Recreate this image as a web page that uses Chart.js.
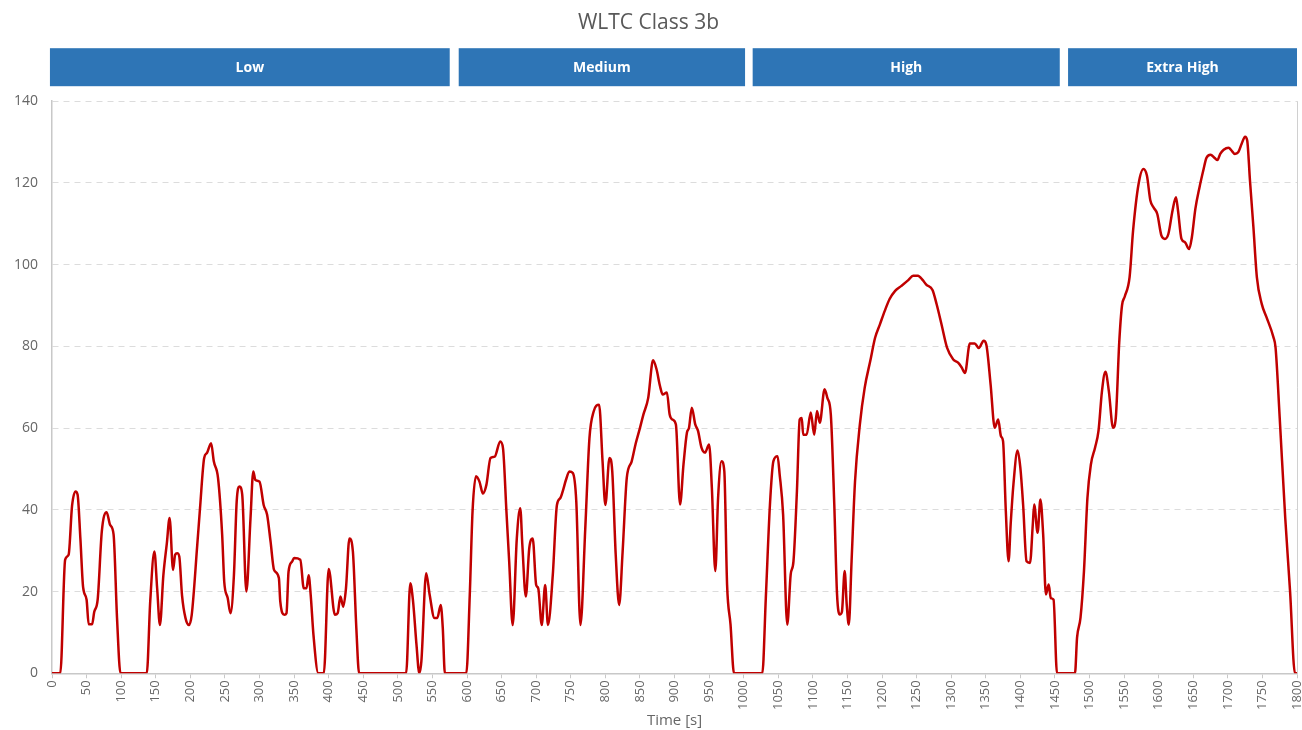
<!DOCTYPE html>
<html lang="en">
<head>
    <meta charset="UTF-8">
    <title>WLTC Class 3b</title>
    <style>
        body {
            margin: 0;
            padding: 0;
            background-color: #fff;
        }

        #cycleChart {
            display: block;
        }
    </style>
</head>
<body>
    <canvas id="cycleChart" width="1302" height="730"></canvas>

    <script src="https://cdn.jsdelivr.net/npm/chart.js"></script>
    <script>
        // Speed trace (time in s, speed in km/h)
        const timeSec = [
            0, 12, 19, 24, 29, 34, 37, 41, 45, 50, 53, 58, 61, 66, 72, 79, 84, 89, 94, 99,
            137, 142, 148, 152, 156, 161, 166, 170, 175, 178, 181, 184, 188, 193, 198, 202,
            210, 214, 220, 224, 230, 234, 240, 246, 249, 254, 258, 263, 267, 271, 275, 281,
            287, 291, 294, 300, 306, 311, 316, 321, 328, 330, 336, 339, 342, 347, 350, 359,
            364, 368, 371, 374, 378, 385, 393, 400, 409, 413, 417, 421, 425, 430, 435, 440, 444,
            512, 518, 522, 527, 531, 534, 541, 546, 553, 557, 562, 565, 568,
            599, 604, 608, 613, 618, 623, 628, 634, 640, 648, 652, 657, 661, 666, 672, 677,
            680, 685, 690, 695, 700, 703, 708, 713, 717, 724, 730, 735, 739, 743, 748, 753,
            758, 764, 771, 777, 783, 791, 796, 800, 806, 810, 815, 820, 825, 831, 838, 844,
            850, 855, 862, 869, 874, 879, 883, 889, 893, 897, 902, 908, 913, 918, 921, 925,
            930, 934, 939, 944, 950, 954, 959, 963, 968, 972, 976, 981, 986,
            1027, 1032, 1038, 1043, 1049, 1052, 1057, 1063, 1068, 1072, 1077, 1081, 1084,
            1086, 1091, 1097, 1102, 1106, 1110, 1117, 1121, 1126, 1131, 1135, 1139, 1142,
            1146, 1149, 1152, 1156, 1161, 1168, 1175, 1183, 1190, 1197, 1204, 1211, 1219,
            1228, 1238, 1245, 1252, 1259, 1264, 1273, 1279, 1286, 1294, 1303, 1310, 1315,
            1320, 1327, 1334, 1340, 1347, 1351, 1357, 1363, 1368, 1372, 1375, 1379, 1383,
            1386, 1390, 1396, 1400, 1404, 1409, 1414, 1418, 1420, 1425, 1429, 1433, 1437,
            1441, 1444, 1448, 1453,
            1479, 1482, 1487, 1492, 1497, 1502, 1508, 1513, 1518, 1523, 1528, 1534, 1538,
            1543, 1547, 1551, 1558, 1563, 1571, 1578, 1583, 1588, 1593, 1598, 1604, 1609,
            1614, 1620, 1625, 1628, 1633, 1638, 1644, 1648, 1653, 1659, 1665, 1669, 1675,
            1681, 1685, 1689, 1694, 1701, 1706, 1710, 1715, 1720, 1725, 1728, 1732, 1737,
            1742, 1749, 1756, 1766, 1769, 1775, 1783, 1790, 1797, 1800
        ];
        const speedKmh = [
            0, 0, 27.8, 29, 41, 44.5, 43.7, 33, 21, 18, 12, 12, 15, 18, 34.7, 39.4, 36.3, 34, 13.5, 0,
            0, 17.6, 29.8, 20.8, 11.8, 24, 31.8, 38, 25.3, 29, 29.4, 28.6, 19, 13.5, 11.8, 14.3,
            31.4, 40.4, 52.7, 53.9, 56.3, 51.8, 47.8, 33.9, 22.4, 18.4, 14.7, 24, 42, 45.7, 43.7, 20,
            38, 49.4, 47.3, 46.9, 41.2, 38.8, 32.2, 25.3, 23.3, 17.6, 14.3, 14.7, 24.9, 27.3, 28.2, 27.8,
            20.8, 20.8, 24, 19.2, 9.4, 0, 0, 25.5, 14.3, 14.7, 18.8, 16.3, 20.8, 33, 29.8, 11, 0,
            0, 22, 17.6, 6.9, 0, 2.9, 24.5, 19.2, 13.5, 13.5, 16.7, 11, 0,
            0, 19.2, 39.6, 48.2, 46.9, 44, 46.1, 52.7, 53, 56.7, 55.1, 39.6, 27.3, 11.8, 33, 40.4,
            31.4, 18.8, 30.6, 33, 21.6, 20.8, 11.8, 21.6, 11.8, 24, 41.2, 42.9, 44.9, 47.3, 49.4, 49,
            42, 11.8, 35.5, 57.5, 64, 65.7, 51.8, 41.2, 52.7, 49.4, 29, 16.7, 29.8, 47.8, 51.8, 56.3,
            60, 63.3, 67.4, 76.6, 74.4, 70.3, 68.2, 68.7, 63.3, 62.1, 60.9, 41.3, 51.1, 58.9, 60.1, 65,
            60.9, 59.3, 55.2, 54, 56, 45.4, 25, 42.9, 51.9, 49.5, 21.7, 11.9, 0,
            0, 18.4, 41.3, 51.9, 53.1, 48.7, 38.9, 11.9, 24.2, 27.4, 44.6, 62.1, 62.5,
            58.4, 58.4, 63.8, 58.4, 64.2, 61.3, 69.5, 67.4, 63.3, 41.3, 19.3, 14.4, 15,
            25, 16.8, 11.9, 27.4, 47, 60.9, 69.9, 76.4, 82.1, 85.4, 88.7, 91.6, 93.6,
            94.8, 96.2, 97.3, 97.3, 96.2, 95.1, 93.8, 90.3, 85.4, 79.7, 76.8, 76, 74.9,
            73.5, 80.7, 80.7, 79.6, 81.4, 80.3, 70.7, 60.1, 62.1, 58, 56.8, 39.7, 27.4,
            36.4, 46.2, 54.5, 50.3, 41.3, 27.4, 27, 36.4, 41.3, 34.4, 42.5, 34, 19.3,
            21.7, 18.4, 18, 0,
            0, 8.7, 13.6, 25, 42.9, 51.1, 55.2, 59.3, 69, 73.8, 69, 60.1, 62.5,
            81, 90, 92.2, 97, 108.3, 119.8, 123.4, 121.8, 115.7, 113.9, 112.4, 107.1, 106.3,
            107.5, 113.2, 116.5, 113.2, 106.3, 105.5, 103.8, 106.7, 113.6, 118.9, 123.4, 126.1, 126.9,
            126.1, 125.6, 127.1, 128.1, 128.6, 127.8, 127.1, 127.5, 129.6, 131.3, 130.4, 120.6, 109.1,
            96.9, 90.4, 87.1, 82.2, 79.7, 62.5, 38, 20, 0, 0
        ];

        // Phase banners above the plot
        const phaseNames = ['Low', 'Medium', 'High', 'Extra High'];
        const phaseStart = [-3, 588, 1013, 1469];
        const phaseEnd = [575, 1002, 1457, 1800];

        const xTickStep = 50;
        const yTickStep = 20;

        const fontFamily = '"Open Sans", "Noto Sans", sans-serif';
        const textGray = '#666666';

        // draws the blue phase bars and the right edge of the plot box
        const phaseBars = {
            id: 'phaseBars',
            afterDraw(chart) {
                const ctx = chart.ctx;
                const xs = chart.scales.x;
                const area = chart.chartArea;
                const top = area.top - 53;
                const h = 38;

                ctx.save();
                for (let i = 0; i < phaseNames.length; i++) {
                    const x1 = xs.getPixelForValue(phaseStart[i]);
                    const x2 = xs.getPixelForValue(phaseEnd[i]);
                    ctx.fillStyle = '#2E75B6';
                    ctx.fillRect(x1, top, x2 - x1, h);
                    ctx.fillStyle = '#ffffff';
                    ctx.font = 'bold 14px ' + fontFamily;
                    ctx.textAlign = 'center';
                    ctx.textBaseline = 'middle';
                    ctx.fillText(phaseNames[i], (x1 + x2) / 2, top + h / 2 + 1);
                }

                ctx.strokeStyle = '#d0d0d0';
                ctx.lineWidth = 1;
                ctx.beginPath();
                ctx.moveTo(Math.round(area.right) + 0.5, area.top);
                ctx.lineTo(Math.round(area.right) + 0.5, area.bottom);
                ctx.stroke();
                ctx.restore();
            }
        };

        const points = timeSec.map((t, i) => ({ x: t, y: speedKmh[i] }));

        const ctx = document.getElementById('cycleChart').getContext('2d');
        const cycleChart = new Chart(ctx, {
            type: 'line',
            data: {
                datasets: [{
                    label: 'Speed',
                    data: points,
                    borderColor: '#C00000',
                    borderWidth: 2.5,
                    pointRadius: 0,
                    fill: false,
                    cubicInterpolationMode: 'monotone'
                }]
            },
            options: {
                responsive: false,
                animation: false,
                devicePixelRatio: 1,
                layout: {
                    padding: { left: 0, right: 5, bottom: 0 }
                },
                plugins: {
                    legend: { display: false },
                    tooltip: { enabled: false },
                    title: {
                        display: true,
                        text: 'WLTC Class 3b',
                        color: '#595959',
                        font: { family: fontFamily, size: 21, weight: 'normal' },
                        padding: { top: 10, bottom: 66 }
                    }
                },
                scales: {
                    x: {
                        type: 'linear',
                        min: 0,
                        max: 1800,
                        afterFit(scale) {
                            // keep the plot edges where the reference has them
                            scale.paddingLeft = 0;
                            scale.paddingRight = 0;
                        },
                        ticks: {
                            stepSize: xTickStep,
                            minRotation: 90,
                            maxRotation: 90,
                            padding: 2,
                            color: textGray,
                            font: { family: fontFamily, size: 13 },
                            callback: (v) => String(v)
                        },
                        grid: {
                            drawOnChartArea: false,
                            drawTicks: true,
                            tickLength: 5,
                            color: '#c8c8c8'
                        },
                        border: { color: '#c8c8c8', width: 1.5 },
                        title: {
                            display: true,
                            text: 'Time [s]',
                            color: textGray,
                            font: { family: fontFamily, size: 15 },
                            padding: { top: 0, bottom: 0 }
                        }
                    },
                    y: {
                        min: 0,
                        max: 140,
                        ticks: {
                            stepSize: yTickStep,
                            padding: 14,
                            color: textGray,
                            font: { family: fontFamily, size: 14 }
                        },
                        grid: {
                            drawTicks: false,
                            color: (c) => c.tick && c.tick.value === 0 ? 'rgba(0,0,0,0)' : '#dcdcdc'
                        },
                        border: { color: '#c8c8c8', width: 1.5, dash: [6, 5] }
                    }
                }
            },
            plugins: [phaseBars]
        });
    </script>
</body>
</html>
